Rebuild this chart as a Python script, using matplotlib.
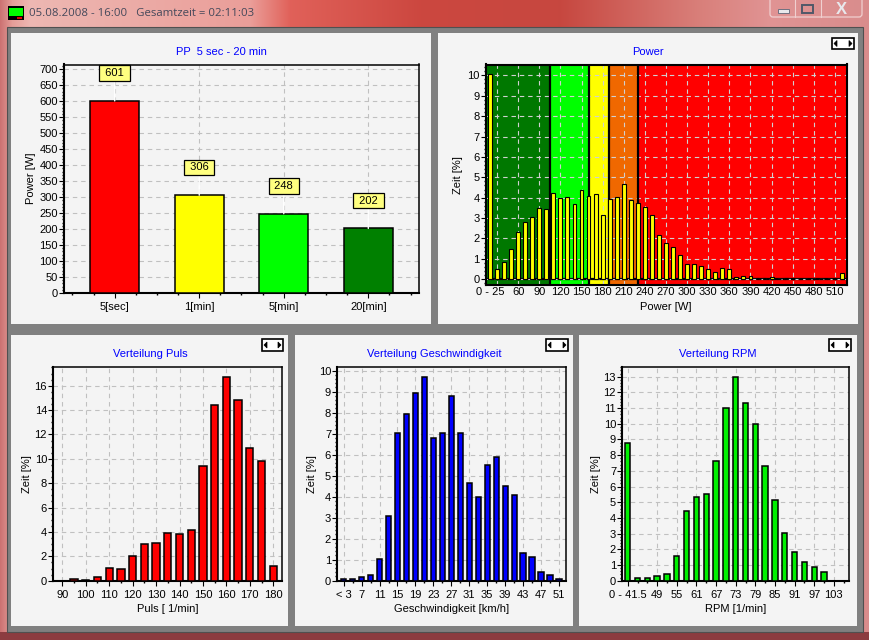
#!/usr/bin/env python3
# -*- coding: utf-8 -*-
"""
Training overview window: peak power bars and three time-in-range histograms.

Outputs:
  - out.png
"""

from __future__ import annotations

import matplotlib.patches as mpatches
import matplotlib.pyplot as plt
import numpy as np

plt.rcParams["font.family"] = ["Liberation Sans", "DejaVu Sans"]
plt.rcParams["font.size"] = 8.0

WIDTH = 870
HEIGHT = 640

window_title = "05.08.2008 - 16:00   Gesamtzeit = 02:11:03"

pp_labels = ["5[sec]", "1[min]", "5[min]", "20[min]"]
pp_values = [601, 306, 248, 202]
pp_colors = ["#ff0000", "#ffff00", "#00ff00", "#008000"]

power_values = [
    10.05, 0.5, 0.87, 1.47, 2.34, 2.83, 3.07, 3.51, 3.46, 4.25, 3.97, 4.05, 3.71,
    4.4, 4.1, 4.17, 3.17, 3.95, 4.05, 4.69, 3.9, 3.76, 3.56, 3.17, 2.19, 1.8, 1.6,
    1.21, 0.74, 0.74, 0.64, 0.52, 0.38, 0.57, 0.49, 0.13, 0.18, 0.18, 0.06, 0.06,
    0.13, 0.02, 0.04, 0.0, 0.0, 0.0, 0.0, 0.0, 0.0, 0.0, 0.33,
]
power_ticks = [1, 4, 7, 10, 13, 16, 19, 22, 25, 28, 31, 34, 37, 40, 43, 46, 49]
power_tick_labels = [
    "", "60", "90", "120", "150", "180", "210", "240", "270", "300", "330", "360",
    "390", "420", "450", "480", "510",
]
zone_edges = [-0.61, 8.52, 14.06, 16.9, 20.97, 50.67]
zone_colors = ["#007800", "#00ff00", "#ffff00", "#f06800", "#ff0000"]

puls_bins = [90, 95, 100, 105, 110, 115, 120, 125, 130, 135, 140, 145, 150, 155, 160, 165, 170, 175, 180]
puls_values = [0.0, 0.1, 0.03, 0.3, 1.05, 0.95, 2.05, 3.05, 3.1, 3.95, 3.85, 4.2, 9.4, 14.4, 16.75, 14.85, 10.9, 9.8, 1.2]
puls_ticks = [90, 100, 110, 120, 130, 140, 150, 160, 170, 180]

speed_values = [
    0.08, 0.08, 0.18, 0.28, 1.05, 3.1, 7.05, 7.95, 8.95, 9.7, 6.8, 7.05, 8.8, 7.05,
    4.65, 4.0, 5.5, 5.9, 4.5, 4.1, 1.33, 1.13, 0.42, 0.28, 0.08,
]
speed_ticks = [0, 2, 4, 6, 8, 10, 12, 14, 16, 18, 20, 22, 24]
speed_tick_labels = ["< 3", "7", "11", "15", "19", "23", "27", "31", "35", "39", "43", "47", "51"]

rpm_values = [
    8.75, 0.15, 0.15, 0.28, 0.42, 1.6, 4.45, 5.35, 5.55, 7.6, 11.0, 13.0, 11.35,
    10.0, 7.3, 5.15, 3.05, 1.8, 1.2, 0.85, 0.55, 0.0, 0.0,
]
rpm_ticks = [0, 3, 5, 7, 9, 11, 13, 15, 17, 19, 21]
rpm_tick_labels = ["0 - 41.5", "49", "55", "61", "67", "73", "79", "85", "91", "97", "103"]

# title bar colours, left to right
glass_x = [0, 12, 30, 250, 290, 420, 560, 700, 770, 870]
glass_rgb = [
    (0.80, 0.45, 0.45), (0.90, 0.62, 0.60), (0.93, 0.72, 0.70), (0.92, 0.62, 0.60),
    (0.88, 0.38, 0.35), (0.80, 0.28, 0.25), (0.78, 0.28, 0.25), (0.85, 0.50, 0.48),
    (0.88, 0.58, 0.58), (0.85, 0.55, 0.55),
]


def rect(x0: float, y0: float, x1: float, y1: float) -> list[float]:
    return [x0 / WIDTH, 1 - y1 / HEIGHT, (x1 - x0) / WIDTH, (y1 - y0) / HEIGHT]


def arrow_button(ax, x0: float, y0: float, x1: float, y1: float) -> None:
    ax.add_patch(mpatches.Rectangle((x0, y0), x1 - x0, y1 - y0, fc="white", ec="black", lw=1.2))
    ym = (y0 + y1) / 2
    ax.add_patch(mpatches.Polygon([(x0 + 5, ym - 3), (x0 + 5, ym + 3), (x0 + 2, ym)], fc="black", ec="black", lw=0.5))
    ax.add_patch(mpatches.Polygon([(x1 - 5, ym - 3), (x1 - 5, ym + 3), (x1 - 2, ym)], fc="black", ec="black", lw=0.5))


def draw_window() -> None:
    ax = plt.axes([0, 0, 1, 1])
    xs = np.arange(WIDTH)
    glass = np.stack([np.interp(xs, glass_x, [c[i] for c in glass_rgb]) for i in range(3)], axis=-1)
    ax.imshow(glass[np.newaxis, :, :], extent=(0, WIDTH, HEIGHT, 0), aspect="auto")
    ax.set_xlim(0, WIDTH)
    ax.set_ylim(HEIGHT, 0)
    ax.axis("off")

    ax.add_patch(mpatches.Rectangle((0, 632), WIDTH, 8, fc="#8c3c40", ec="none"))
    ax.add_patch(mpatches.Rectangle((7, 27), 856, 605, fc="#808080", ec="#505050", lw=0.8))

    # panels
    for x0, y0, x1, y1 in [(11, 33, 431, 324), (438, 33, 858, 324), (11, 335, 288, 626), (295, 335, 573, 626), (579, 335, 857, 626)]:
        ax.add_patch(mpatches.Rectangle((x0, y0), x1 - x0, y1 - y0, fc="#f4f4f4", ec="none"))

    arrow_button(ax, 832, 38, 854, 49)
    arrow_button(ax, 262, 339, 283, 351)
    arrow_button(ax, 546, 339, 568, 351)
    arrow_button(ax, 829, 339, 851, 351)

    # titles
    ax.text(221, 52, "PP  5 sec - 20 min", color="#0000ff", ha="center", va="center")
    ax.text(648, 52, "Power", color="#0000ff", ha="center", va="center")
    ax.text(150, 354, "Verteilung Puls", color="#0000ff", ha="center", va="center")
    ax.text(434, 354, "Verteilung Geschwindigkeit", color="#0000ff", ha="center", va="center")
    ax.text(718, 354, "Verteilung RPM", color="#0000ff", ha="center", va="center")

    # caption bar
    ax.add_patch(mpatches.Rectangle((8, 6), 16, 14, fc="black", ec="none"))
    ax.add_patch(mpatches.Rectangle((9, 8), 14, 8, fc="#00ff00", ec="none"))
    ax.add_patch(mpatches.Rectangle((17, 17), 5, 2, fc="#e00000", ec="none"))
    ax.text(29, 13.5, window_title, family="Open Sans", fontsize=8.2, color="#44485a", ha="left", va="center")

    ax.add_patch(mpatches.FancyBboxPatch((770, -6), 92, 23, boxstyle="round,pad=0,rounding_size=3", fc="none", ec="#f0d0d0", lw=0.9))
    ax.plot([795, 795], [0, 17], color="#f0d0d0", lw=0.8)
    ax.plot([821, 821], [0, 17], color="#f0d0d0", lw=0.8)
    ax.add_patch(mpatches.Rectangle((778, 9), 11, 4, fc="#e8e8ec", ec="#707080", lw=0.7))
    ax.add_patch(mpatches.Rectangle((802, 5), 11, 8, fc="none", ec="#505868", lw=1.4))
    ax.text(841, 9, "X", fontsize=12, fontweight="bold", color="#e8e8ec", ha="center", va="center")


def style_axes(minor_y: float) -> None:
    ax = plt.gca()
    ax.set_facecolor("#f4f4f4")
    ax.set_axisbelow("line")  # grid over the coloured zones, bars over the grid
    for s in ("left", "bottom"):
        ax.spines[s].set_linewidth(1.5)
    for s in ("top", "right"):
        ax.spines[s].set_linewidth(1.1)
    ax.yaxis.set_minor_locator(plt.MultipleLocator(minor_y))
    plt.tick_params(axis="x", which="major", length=3.5, width=0.8, pad=3)
    plt.tick_params(axis="y", which="major", length=3.5, width=0.8, pad=1)
    plt.tick_params(which="minor", length=1.6, width=1.0)
    plt.grid(which="major", color="#c0c0c0", linestyle=(0, (4, 3.5)), linewidth=0.8)


def draw_peak_power() -> None:
    plt.axes(rect(64, 64.5, 419, 293))
    style_axes(10)
    x = np.arange(len(pp_values))
    plt.bar(x, pp_values, width=0.58, color=pp_colors, edgecolor="black", linewidth=1.1, zorder=3)
    for xi, v in zip(x, pp_values):
        plt.annotate(
            f" {v} ", xy=(xi, v), xytext=(0, 20), textcoords="offset points", ha="center", va="center",
            bbox=dict(boxstyle="square,pad=0.25", fc="#ffff80", ec="black", lw=0.9),
            arrowprops=dict(arrowstyle="-", color="white", lw=1.0, shrinkA=0, shrinkB=0), zorder=4,
        )
    plt.xticks(x, pp_labels)
    plt.xticks(np.arange(-0.5, 3.6, 0.25), minor=True)
    plt.yticks(np.arange(0, 701, 50))
    plt.xlim(-0.6, 3.6)
    plt.ylim(0, 715)
    plt.ylabel("Power [W]", labelpad=2)


def draw_power() -> None:
    plt.axes(rect(485.7, 64.5, 846.7, 285))
    style_axes(0.2)
    for i, c in enumerate(zone_colors):
        plt.axvspan(zone_edges[i], zone_edges[i + 1], color=c, lw=0, zorder=0)
    plt.hlines(0, -0.61, 50.67, color="black", linewidth=1.6, zorder=1)
    plt.vlines(zone_edges[1:5], -0.28, 10.53, color="black", linewidth=1.6, zorder=2)
    plt.grid(which="major", color="#d0d0d0", linestyle=(0, (4, 3.5)), linewidth=0.8)
    x = np.arange(len(power_values))
    plt.bar(x, power_values, width=0.55, color="#ffff00", edgecolor="black", linewidth=0.8, zorder=3)
    plt.xticks(power_ticks, power_tick_labels)
    # the first bin sits one slot left of the first grid line
    plt.xticks(x, ["0 - 25"] + [""] * (len(x) - 1), minor=True)
    plt.tick_params(axis="x", which="both", length=0, pad=1.5)
    plt.yticks(np.arange(0, 11))
    plt.xlim(-0.61, 50.67)
    plt.ylim(-0.28, 10.53)
    plt.xlabel("Power [W]", labelpad=3.5)
    plt.ylabel("Zeit [%]", labelpad=3)
    for s in plt.gca().spines.values():
        s.set_linewidth(1.5)


def draw_puls() -> None:
    plt.axes(rect(53.3, 366.7, 281.7, 580.7))
    style_axes(0.5)
    plt.bar(puls_bins, puls_values, width=3.1, color="#ff0000", edgecolor="black", linewidth=1.1, zorder=3)
    plt.xticks(puls_ticks)
    plt.xticks(puls_bins, minor=True)
    plt.yticks(np.arange(0, 17, 2))
    plt.xlim(86.16, 183.6)
    plt.ylim(0, 17.56)
    plt.xlabel("Puls [ 1/min]", labelpad=3)
    plt.ylabel("Zeit [%]", labelpad=1.5)


def draw_speed() -> None:
    plt.axes(rect(337.3, 366.7, 565.7, 580.7))
    style_axes(0.2)
    x = np.arange(len(speed_values))
    plt.bar(x, speed_values, width=0.58, color="#0000ff", edgecolor="black", linewidth=1.1, zorder=3)
    plt.xticks(speed_ticks, speed_tick_labels)
    plt.xticks(x, minor=True)
    plt.yticks(np.arange(0, 11))
    plt.xlim(-0.71, 24.75)
    plt.ylim(0, 10.19)
    plt.xlabel("Geschwindigkeit [km/h]", labelpad=3)
    plt.ylabel("Zeit [%]", labelpad=1.5)


def draw_rpm() -> None:
    plt.axes(rect(622.3, 366.7, 849.3, 580.7))
    style_axes(0.2)
    x = np.arange(len(rpm_values))
    plt.bar(x, rpm_values, width=0.55, color="#00f000", edgecolor="black", linewidth=1.1, zorder=3)
    plt.xticks(rpm_ticks, rpm_tick_labels)
    plt.xticks(x, minor=True)
    plt.yticks(np.arange(0, 14))
    plt.xlim(-0.55, 22.57)
    plt.ylim(0, 13.64)
    plt.xlabel("RPM [1/min]", labelpad=3)
    plt.ylabel("Zeit [%]", labelpad=1.5)


def main() -> int:
    plt.figure(figsize=(WIDTH / 100, HEIGHT / 100), dpi=100)
    draw_window()
    draw_peak_power()
    draw_power()
    draw_puls()
    draw_speed()
    draw_rpm()
    plt.savefig("out.png", dpi=100)
    plt.close()
    return 0


if __name__ == "__main__":
    raise SystemExit(main())
